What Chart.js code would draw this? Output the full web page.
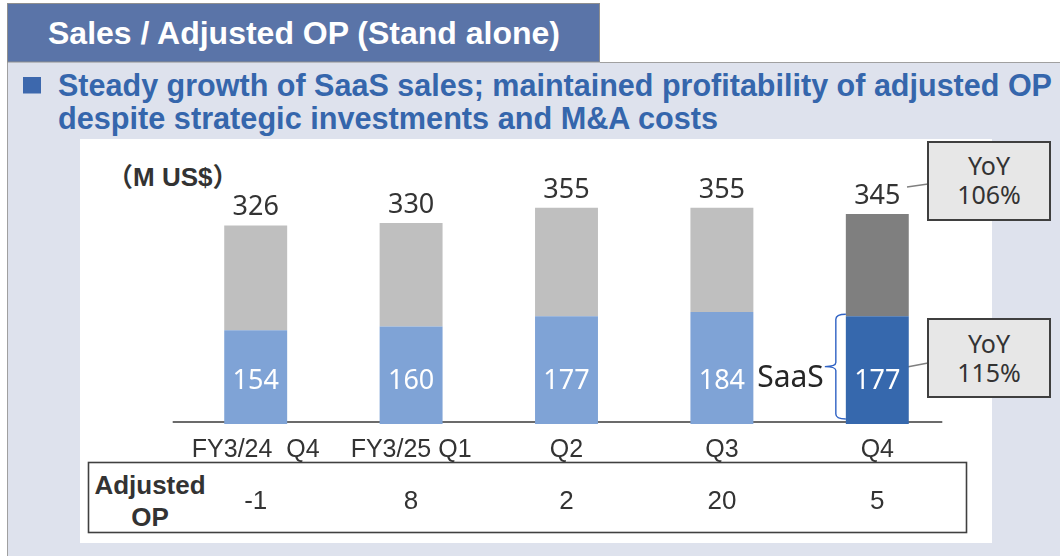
<!DOCTYPE html>
<html>
<head>
<meta charset="utf-8">
<script src="https://cdn.jsdelivr.net/npm/chart.js@4.4.1/dist/chart.umd.min.js"></script>
<style>
html,body{margin:0;padding:0;background:#fff;}
#wrap{position:relative;width:1060px;height:556px;overflow:hidden;}
#deco{position:absolute;left:0;top:0;}
#c{position:absolute;left:0;top:0;}
</style>
</head>
<body>
<div id="wrap">
<svg id="deco" width="1060" height="556" xmlns="http://www.w3.org/2000/svg" font-family="'Liberation Sans', Arial, 'Noto Sans CJK JP', sans-serif">
  <rect x="0" y="0" width="1060" height="556" fill="#ffffff"/>
  <rect x="7" y="62" width="1053" height="494" fill="#dee2ed"/>
  <line x1="7.5" y1="3" x2="7.5" y2="556" stroke="#a0a0a0" stroke-width="1"/>
  <line x1="600" y1="62.5" x2="1060" y2="62.5" stroke="#a0a0a0" stroke-width="1"/>
  <rect x="7.5" y="3.5" width="592" height="58.5" fill="#5a74a8" stroke="#8f8f8f" stroke-width="1"/>
  <text x="48" y="44" fill="#ffffff" font-weight="bold" font-size="32" textLength="512" lengthAdjust="spacingAndGlyphs">Sales / Adjusted OP (Stand alone)</text>
  <rect x="23" y="77" width="18" height="16.5" fill="#3d68ad"/>
  <text x="58" y="96" fill="#3566ac" font-weight="bold" font-size="31" textLength="994" lengthAdjust="spacingAndGlyphs">Steady growth of SaaS sales; maintained profitability of adjusted OP</text>
  <text x="58" y="129" fill="#3566ac" font-weight="bold" font-size="31" textLength="660" lengthAdjust="spacingAndGlyphs">despite strategic investments and M&amp;A costs</text>
  <rect x="80" y="139" width="912" height="404" fill="#ffffff"/>
  <text x="107" y="186" fill="#333333" font-weight="bold" font-size="26">（M US$）</text>
  <rect x="88.5" y="462.5" width="878" height="70" fill="none" stroke="#404040" stroke-width="1.6"/>
  <text x="150" y="494" fill="#333333" font-weight="bold" font-size="26" text-anchor="middle">Adjusted</text>
  <text x="150" y="526" fill="#333333" font-weight="bold" font-size="26" text-anchor="middle">OP</text>
  <line x1="907" y1="187" x2="928" y2="184" stroke="#7f7f7f" stroke-width="1.3"/>
  <line x1="907" y1="367" x2="928" y2="363" stroke="#7f7f7f" stroke-width="1.3"/>
  <rect x="928" y="142" width="122" height="78" fill="#e7e7e7" stroke="#3f3f3f" stroke-width="2"/>
  <text x="989" y="175" fill="#333333" font-size="25" text-anchor="middle" font-family="'Noto Sans', sans-serif">YoY</text>
  <text x="989" y="204" fill="#333333" font-size="25" text-anchor="middle" font-family="'Noto Sans', sans-serif" id="yoyT"></text>
  <rect x="928" y="319" width="122" height="78" fill="#e7e7e7" stroke="#3f3f3f" stroke-width="2"/>
  <text x="989" y="353" fill="#333333" font-size="25" text-anchor="middle" font-family="'Noto Sans', sans-serif">YoY</text>
  <text x="989" y="382" fill="#333333" font-size="25" text-anchor="middle" font-family="'Noto Sans', sans-serif" id="yoyS"></text>
</svg>
<canvas id="c" width="1060" height="556"></canvas>
</div>
<script>
// ---- Data (M US$) ----
const categories = ['FY3/24  Q4', 'FY3/25 Q1', 'Q2', 'Q3', 'Q4'];
const totalSales = [326, 330, 355, 355, 345];
const saasSales = [154, 160, 177, 184, 177];
const adjustedOP = [-1, 8, 2, 20, 5];
const yoyTotal = '106%';
const yoySaas = '115%';

const otherSales = totalSales.map((t, i) => t - saasSales[i]);
document.getElementById('yoyT').textContent = yoyTotal;
document.getElementById('yoyS').textContent = yoySaas;

const saasColors = ['#7fa3d6', '#7fa3d6', '#7fa3d6', '#7fa3d6', '#3668ad'];
const otherColors = ['#bfbfbf', '#bfbfbf', '#bfbfbf', '#bfbfbf', '#7f7f7f'];

const labelPlugin = {
  id: 'labels',
  beforeDatasetsDraw(chart) {
    const ctx = chart.ctx;
    const x = chart.scales.x, y = chart.scales.y;
    const zero = y.getPixelForValue(0);
    const first = x.getPixelForValue(0), last = x.getPixelForValue(categories.length - 1);
    ctx.save();
    ctx.strokeStyle = '#3a3a3a';
    ctx.lineWidth = 1.5;
    ctx.beginPath();
    ctx.moveTo(first - 83, zero - 2);
    ctx.lineTo(last + 65, zero - 2);
    ctx.stroke();
    ctx.restore();
  },
  afterDatasetsDraw(chart) {
    const ctx = chart.ctx;
    const x = chart.scales.x, y = chart.scales.y;
    const zero = y.getPixelForValue(0);
    const saasMeta = chart.getDatasetMeta(0);
    const otherMeta = chart.getDatasetMeta(1);
    ctx.save();
    ctx.textAlign = 'center';
    ctx.textBaseline = 'alphabetic';
    categories.forEach((c, i) => {
      const cx = x.getPixelForValue(i);
      const top = otherMeta.data[i].y;
      ctx.fillStyle = '#333333';
      ctx.font = '27px "Noto Sans", sans-serif';
      ctx.fillText(String(totalSales[i]), cx, top - 10);
      ctx.fillStyle = '#ffffff';
      ctx.fillText(String(saasSales[i]), cx, zero - 35);
      ctx.fillStyle = '#333333';
      ctx.font = '25px "Liberation Sans", Arial, sans-serif';
      ctx.fillText(c, cx, zero + 33);
      ctx.font = '26px "Liberation Sans", Arial, sans-serif';
      ctx.fillText(String(adjustedOP[i]), cx, zero + 85);
    });
    // SaaS brace on last bar
    const n = categories.length - 1;
    const bar = saasMeta.data[n];
    const left = bar.x - bar.width / 2;
    const t = bar.y - 2, b = zero - 5, m = (t + b) / 2;
    const vx = left - 10;
    ctx.strokeStyle = '#2f62c4';
    ctx.lineWidth = 1.4;
    ctx.beginPath();
    ctx.moveTo(left, t);
    ctx.quadraticCurveTo(vx, t, vx, t + 5);
    ctx.lineTo(vx, m - 4);
    ctx.quadraticCurveTo(vx, m, vx - 11, m);
    ctx.quadraticCurveTo(vx, m, vx, m + 4);
    ctx.lineTo(vx, b - 5);
    ctx.quadraticCurveTo(vx, b, left, b);
    ctx.stroke();
    ctx.fillStyle = '#262626';
    ctx.font = '30px "Noto Sans", sans-serif';
    ctx.textAlign = 'right';
    ctx.fillText('SaaS', left - 22, zero - 37);
    ctx.restore();
  }
};

new Chart(document.getElementById('c'), {
  type: 'bar',
  data: {
    labels: categories,
    datasets: [
      { label: 'SaaS', data: saasSales, backgroundColor: saasColors, borderWidth: 0 },
      { label: 'Other', data: otherSales, backgroundColor: otherColors, borderWidth: 0 }
    ]
  },
  options: {
    responsive: false,
    animation: false,
    devicePixelRatio: 1,
    layout: { padding: { left: 178, right: 105, top: 180.4, bottom: 132 } },
    datasets: { bar: { barPercentage: 0.405, categoryPercentage: 1 } },
    scales: {
      x: { stacked: true, display: false },
      y: { stacked: true, display: false, min: 0, max: 400 }
    },
    plugins: { legend: { display: false }, tooltip: { enabled: false } }
  },
  plugins: [labelPlugin]
});
</script>
</body>
</html>
